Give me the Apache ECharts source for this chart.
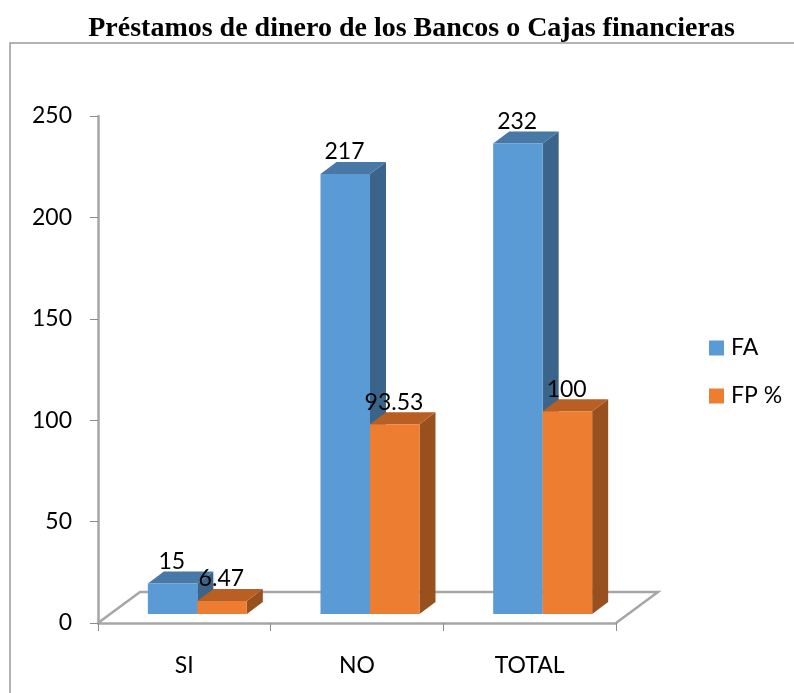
<!DOCTYPE html>
<html><head><meta charset="utf-8">
<style>html,body{margin:0;padding:0;background:#fff}#c{width:794px;height:693px}</style>
<script src="https://cdn.jsdelivr.net/npm/echarts@6/dist/echarts.min.js"></script>
</head><body><div id="c"></div>
<script>
const categories = ['SI', 'NO', 'TOTAL'];
const seriesFA = [15, 217, 232];
const seriesFP = [6.47, 93.53, 100];
const labelsFP = ['6.47', '93.53', '100'];
const yTicks = [0, 50, 100, 150, 200, 250];

const DX = 16, DY = -12, LIFT = -9, SHIFT = 13, BAR = 49.5;
const FONT = 'Lato';

function bar3d(colors, side) {
  return function (params, api) {
    const i = api.value(0), v = api.value(1);
    const c0 = api.coord([i, 0]), c1 = api.coord([i, v]);
    const cx = c0[0] + SHIFT;
    const xl = side < 0 ? cx - BAR : cx, xr = xl + BAR;
    const yb = c0[1] + LIFT, yt = c1[1] + LIFT;
    const poly = (pts, fill) => ({ type: 'polygon', shape: { points: pts }, style: { fill } });
    return {
      type: 'group',
      children: [
        poly([[xr, yt], [xr + DX, yt + DY], [xr + DX, yb + DY], [xr, yb]], colors[2]),
        poly([[xl, yt], [xl + DX, yt + DY], [xr + DX, yt + DY], [xr, yt]], colors[1]),
        { type: 'rect', shape: { x: xl, y: yt, width: BAR, height: yb - yt }, style: { fill: colors[0] } },
        { type: 'text', style: {
            x: xl + 24, y: yt - 22, text: side < 0 ? String(v) : labelsFP[i],
            fill: '#000', font: '23px ' + FONT, align: 'center', verticalAlign: 'middle' }, z2: 50 }
      ]
    };
  };
}

const chart = echarts.init(document.getElementById('c'), null, { renderer: 'canvas' });
chart.setOption({
  animation: false,
  backgroundColor: '#fff',
  title: {
    text: 'Préstamos de dinero de los Bancos o Cajas financieras',
    left: 406.5, top: 10, textAlign: 'center',
    textStyle: { fontFamily: 'Liberation Serif', fontWeight: 'bold', fontSize: 28, color: '#000' }
  },
  legend: {
    orient: 'vertical', left: 709, top: 336, itemWidth: 15, itemHeight: 15, itemGap: 24,
    icon: 'rect', padding: 0,
    textStyle: { fontFamily: FONT, fontSize: 23, color: '#000', lineHeight: 15, padding: [9, 0, 0, 2] }
  },
  grid: { left: 98, right: 178, top: 116, bottom: 70 },
  xAxis: {
    type: 'category', data: categories, boundaryGap: true,
    axisLine: { lineStyle: { color: '#a6a6a6', width: 2.5 } },
    axisTick: { show: true, length: 8, lineStyle: { color: '#8c8c8c', width: 1 } },
    axisLabel: { fontFamily: FONT, fontSize: 23, color: '#000', margin: 31 }
  },
  yAxis: {
    type: 'value', min: yTicks[0], max: yTicks[yTicks.length - 1], interval: 50,
    splitLine: { show: false },
    axisLine: { show: true, lineStyle: { color: '#a6a6a6', width: 2.5 } },
    axisTick: { show: true, length: 8, lineStyle: { color: '#8c8c8c', width: 1 } },
    axisLabel: { fontFamily: FONT, fontSize: 23, color: '#000', margin: 26, verticalAlign: 'middle', padding: [13, 0, 0, 0] }
  },
  graphic: [
    { type: 'polyline', silent: true, z: 0,
      shape: { points: [[10, 693], [10, 43], [794, 43]] },
      style: { stroke: '#9a9a9a', fill: null, lineWidth: 1.5 } },
    { type: 'polyline', silent: true, z: 0,
      shape: { points: [[98, 623], [140, 592], [658, 592], [616, 623]] },
      style: { stroke: '#a6a6a6', fill: null, lineWidth: 2.5 } }
  ],
  series: [
    { name: 'FA', type: 'custom', renderItem: bar3d(['#5b9bd5', '#4778a6', '#3a6489'], -1),
      itemStyle: { color: '#5b9bd5' }, encode: { x: 0, y: 1 }, z: 3,
      data: seriesFA.map((v, i) => [i, v]) },
    { name: 'FP %', type: 'custom', renderItem: bar3d(['#ed7d31', '#b85f23', '#97501e'], 1),
      itemStyle: { color: '#ed7d31' }, encode: { x: 0, y: 1 }, z: 4,
      data: seriesFP.map((v, i) => [i, v]) }
  ]
});
</script></body></html>
